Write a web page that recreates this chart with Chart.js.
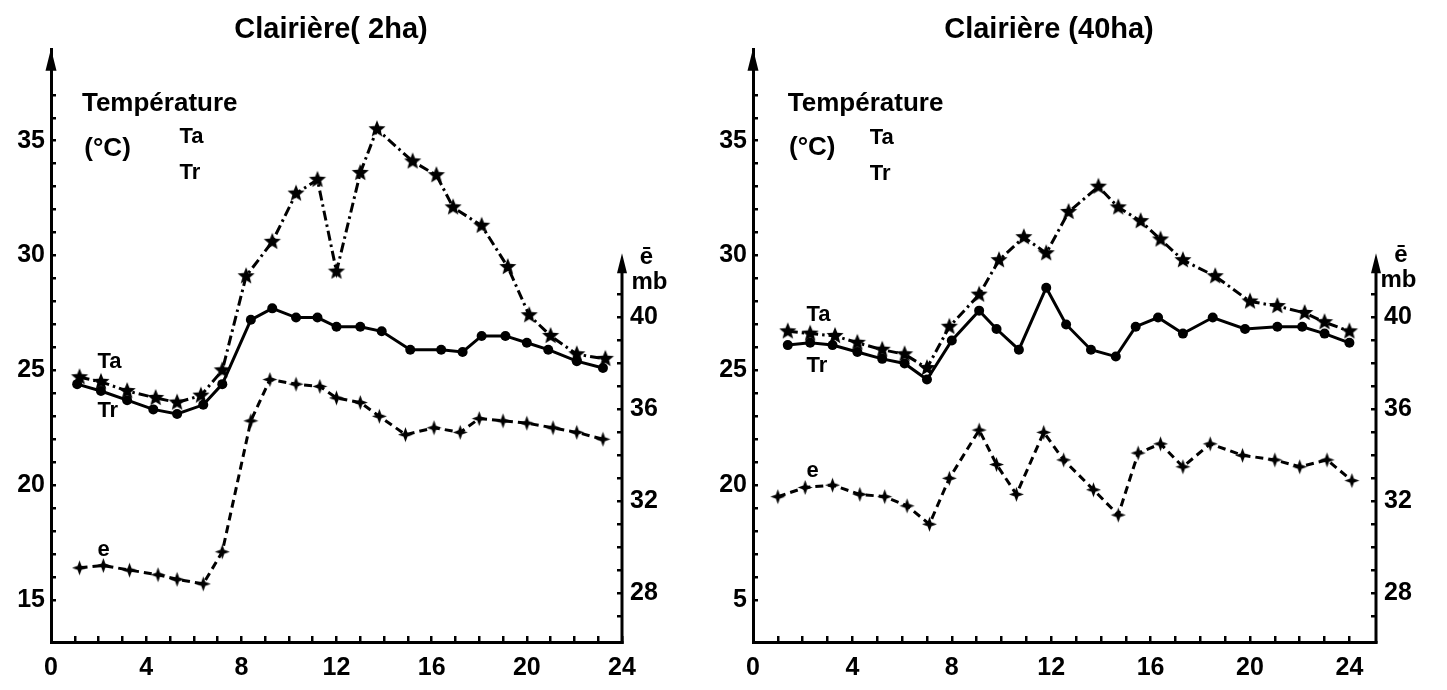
<!DOCTYPE html>
<html lang="fr">
<head>
<meta charset="utf-8">
<title>Clairières : température et tension de vapeur</title>
<script src="https://cdn.jsdelivr.net/npm/chart.js@4.4.1/dist/chart.umd.min.js"></script>
<style>
  html, body { margin: 0; padding: 0; background: #fff; width: 1447px; height: 690px; overflow: hidden; }
  canvas { position: absolute; top: 0; }
  #c2 { left: -38px; }
  #c40 { left: 651px; }
</style>
</head>
<body>
<canvas id="c2" width="738" height="690"></canvas>
<canvas id="c40" width="796" height="690"></canvas>
<script>
// ---- Clairière (2 ha): hour of day, air temperature Ta, radiant temperature Tr (°C), vapour pressure e (mb)
const hoursTa2 = [1.2, 2.1, 3.2, 4.4, 5.3, 6.3, 7.2, 8.2, 9.3, 10.3, 11.2, 12.0, 13.0, 13.7, 15.2, 16.2, 16.9, 18.1, 19.2, 20.1, 21.0, 22.1, 23.3];
const ta2      = [24.7, 24.5, 24.1, 23.8, 23.6, 23.9, 25.0, 29.1, 30.6, 32.7, 33.3, 29.3, 33.6, 35.5, 34.1, 33.5, 32.1, 31.3, 29.5, 27.4, 26.5, 25.7, 25.5];
const hoursTr2 = [1.1, 2.1, 3.2, 4.3, 5.3, 6.4, 7.2, 8.4, 9.3, 10.3, 11.2, 12.0, 13.0, 13.9, 15.1, 16.4, 17.3, 18.1, 19.1, 20.0, 20.9, 22.1, 23.2];
const tr2      = [24.4, 24.1, 23.7, 23.3, 23.1, 23.5, 24.4, 27.2, 27.7, 27.3, 27.3, 26.9, 26.9, 26.7, 25.9, 25.9, 25.8, 26.5, 26.5, 26.2, 25.9, 25.4, 25.1];
const hoursE2  = [1.2, 2.2, 3.3, 4.5, 5.3, 6.4, 7.2, 8.4, 9.2, 10.3, 11.3, 12.0, 13.0, 13.8, 14.9, 16.1, 17.2, 18.0, 19.0, 20.0, 21.1, 22.1, 23.2];
const e2       = [29.1, 29.2, 29.0, 28.8, 28.6, 28.4, 29.8, 35.5, 37.3, 37.1, 37.0, 36.5, 36.3, 35.7, 34.9, 35.2, 35.0, 35.6, 35.5, 35.4, 35.2, 35.0, 34.7];

// ---- Clairière (40 ha)
const hoursTa40 = [1.4, 2.3, 3.3, 4.2, 5.2, 6.1, 7.0, 7.9, 9.1, 9.9, 10.9, 11.8, 12.7, 13.9, 14.7, 15.6, 16.4, 17.3, 18.6, 20.0, 21.1, 22.2, 23.0, 24.0];
const ta40      = [26.7, 26.6, 26.5, 26.2, 25.9, 25.7, 25.1, 26.9, 28.3, 29.8, 30.8, 30.1, 31.9, 33.0, 32.1, 31.5, 30.7, 29.8, 29.1, 28.0, 27.8, 27.5, 27.1, 26.7];
const hoursTr40 = [1.4, 2.3, 3.2, 4.2, 5.2, 6.1, 7.0, 8.0, 9.1, 9.8, 10.7, 11.8, 12.6, 13.6, 14.6, 15.4, 16.3, 17.3, 18.5, 19.8, 21.1, 22.1, 23.0, 24.0];
const tr40      = [26.1, 26.2, 26.1, 25.8, 25.5, 25.3, 24.6, 26.3, 27.6, 26.8, 25.9, 28.6, 27.0, 25.9, 25.6, 26.9, 27.3, 26.6, 27.3, 26.8, 26.9, 26.9, 26.6, 26.2];
const hoursE40  = [1.0, 2.1, 3.2, 4.3, 5.3, 6.2, 7.1, 7.9, 9.1, 9.8, 10.6, 11.7, 12.5, 13.7, 14.7, 15.5, 16.4, 17.3, 18.4, 19.7, 21.0, 22.0, 23.1, 24.1];
const e40       = [32.2, 32.6, 32.7, 32.3, 32.2, 31.8, 31.0, 33.0, 35.1, 33.6, 32.3, 35.0, 33.8, 32.5, 31.4, 34.1, 34.5, 33.5, 34.5, 34.0, 33.8, 33.5, 33.8, 32.9];

// ---- tick labels
const hourTicks = [0, 4, 8, 12, 16, 20, 24];
const tempTicks = [15, 20, 25, 30, 35];
const tempTickLabels2  = ['15', '20', '25', '30', '35'];
const tempTickLabels40 = ['5', '20', '25', '30', '35'];
const vapTicks = [28, 32, 36, 40];
const vapTickLabels = ['28', '32', '36', '40'];

const FONT = "'Liberation Sans', Arial, sans-serif";
const INK = '#000';

// filled star used as point marker (5 spikes for Ta, 4 spikes for e)
function starMarker(outer, inner, spikes) {
  const size = Math.ceil(outer * 2 + 2);
  const c = document.createElement('canvas');
  c.width = c.height = size;
  const g = c.getContext('2d');
  g.fillStyle = INK;
  g.beginPath();
  for (let k = 0; k < spikes * 2; k++) {
    const r = k % 2 ? inner : outer;
    const a = -Math.PI / 2 + k * Math.PI / spikes;
    const px = size / 2 + r * Math.cos(a), py = size / 2 + r * Math.sin(a);
    if (k) g.lineTo(px, py); else g.moveTo(px, py);
  }
  g.closePath();
  g.fill();
  return c;
}
const taMarker = starMarker(9, 3.9, 5);
const eMarker = starMarker(7.5, 2.8, 4);

function points(hours, values) {
  return hours.map((h, i) => ({ x: h, y: values[i] }));
}

function arrowHead(ctx, x, tipY, halfW, len) {
  ctx.beginPath();
  ctx.moveTo(x, tipY);
  ctx.lineTo(x - halfW, tipY + len);
  ctx.lineTo(x + halfW, tipY + len);
  ctx.closePath();
  ctx.fill();
}

// axis arrows, the short vapour-pressure axis and the in-plot annotations
const decorations = {
  id: 'decorations',
  afterDraw(chart, args, opts) {
    const { ctx, chartArea: a, scales } = chart;
    ctx.save();
    ctx.fillStyle = INK;
    ctx.strokeStyle = INK;
    arrowHead(ctx, a.left, a.top - 1, 5.5, 22);
    const topPx = scales.y2.getPixelForValue(opts.vapAxisTop);
    ctx.lineWidth = 3;
    ctx.beginPath();
    ctx.moveTo(a.right, a.bottom + 1.5);
    ctx.lineTo(a.right, topPx + 12);
    ctx.stroke();
    arrowHead(ctx, a.right, topPx, 5, 20);
    ctx.textBaseline = 'middle';
    ctx.textAlign = 'left';
    for (const n of opts.notes) {
      ctx.font = `bold ${n.size}px ${FONT}`;
      const ys = n.axis === 'y2' ? scales.y2 : scales.y;
      ctx.fillText(n.text, scales.x.getPixelForValue(n.x), ys.getPixelForValue(n.y));
    }
    ctx.restore();
  }
};

function panel(id, cfg) {
  const tickFont = { family: FONT, size: 25, weight: 'bold' };
  const line = { borderColor: INK, backgroundColor: INK, borderWidth: 3, fill: false, tension: 0, pointBorderWidth: 0 };
  return new Chart(document.getElementById(id), {
    type: 'line',
    data: {
      datasets: [
        { ...line, label: 'Ta', data: points(cfg.hoursTa, cfg.ta), yAxisID: 'y', borderDash: [10, 4, 2.5, 4], pointStyle: taMarker },
        { ...line, label: 'Tr', data: points(cfg.hoursTr, cfg.tr), yAxisID: 'y', pointStyle: 'circle', pointRadius: 5 },
        { ...line, label: 'e', data: points(cfg.hoursE, cfg.e), yAxisID: 'y2', borderDash: [8, 5], pointStyle: eMarker }
      ]
    },
    plugins: [decorations],
    options: {
      responsive: false,
      animation: false,
      devicePixelRatio: 1,
      layout: { padding: 0 },
      plugins: {
        legend: { display: false },
        tooltip: { enabled: false },
        title: {
          display: true, text: cfg.title, color: INK,
          font: { family: FONT, size: 29, weight: 'bold' },
          padding: { top: 13, bottom: 2 }
        },
        decorations: { vapAxisTop: 42.8, notes: cfg.notes }
      },
      scales: {
        x: {
          type: 'linear', min: 0, max: cfg.xMax,
          ticks: {
            stepSize: 1, autoSkip: false, maxRotation: 0, color: INK, font: tickFont, padding: 17,
            callback: v => hourTicks.includes(v) ? String(v) : ''
          },
          afterBuildTicks: s => { s.ticks = s.ticks.filter(t => Number.isInteger(t.value) && t.value <= 24); },
          grid: { drawOnChartArea: false, tickLength: -6, color: INK, lineWidth: 2.5 },
          border: { display: true, color: INK, width: 3 },
          afterFit: s => { s.height = 48; }
        },
        y: {
          position: 'left', min: 13.17, max: 38.96,
          ticks: {
            stepSize: 1, autoSkip: false, color: INK, font: tickFont, padding: 11,
            callback: v => { const i = tempTicks.indexOf(v); return i >= 0 ? cfg.tempLabels[i] : ''; }
          },
          afterBuildTicks: s => { s.ticks = s.ticks.filter(t => Number.isInteger(t.value) && t.value >= 14 && t.value <= 37); },
          grid: { drawOnChartArea: false, tickLength: -5, color: INK, lineWidth: 2.5 },
          border: { display: true, color: INK, width: 3 },
          afterFit: s => { s.width = cfg.leftWidth; }
        },
        y2: {
          position: 'right', min: 25.87, max: 51.66,
          ticks: {
            stepSize: 1, autoSkip: false, color: INK, font: tickFont, padding: 13,
            callback: v => { const i = vapTicks.indexOf(v); return i >= 0 ? vapTickLabels[i] : ''; }
          },
          afterBuildTicks: s => { s.ticks = s.ticks.filter(t => Number.isInteger(t.value) && t.value >= 27 && t.value <= 41); },
          grid: { drawOnChartArea: false, tickLength: -5, color: INK, lineWidth: 2.5 },
          border: { display: false },
          afterFit: s => { s.width = cfg.rightWidth; }
        }
      }
    }
  });
}

panel('c2', {
  title: 'Clairière( 2ha)',
  hoursTa: hoursTa2, ta: ta2, hoursTr: hoursTr2, tr: tr2, hoursE: hoursE2, e: e2,
  tempLabels: tempTickLabels2,
  xMax: 24, leftWidth: 89, rightWidth: 78,
  notes: [
    { text: 'Température', x: 1.3, y: 36.6, size: 26 },
    { text: '(°C)', x: 1.4, y: 34.65, size: 26 },
    { text: 'Ta', x: 5.4, y: 35.15, size: 22 },
    { text: 'Tr', x: 5.4, y: 33.6, size: 22 },
    { text: 'Ta', x: 1.95, y: 25.35, size: 22 },
    { text: 'Tr', x: 1.95, y: 23.25, size: 22 },
    { text: 'e', x: 1.95, y: 17.2, size: 22 },
    { text: 'ē', x: 24.75, y: 29.9, size: 24 },
    { text: 'mb', x: 24.4, y: 28.85, size: 24 }
  ]
});

panel('c40', {
  title: 'Clairière (40ha)',
  hoursTa: hoursTa40, ta: ta40, hoursTr: hoursTr40, tr: tr40, hoursE: hoursE40, e: e40,
  tempLabels: tempTickLabels40,
  xMax: 25.07, leftWidth: 102, rightWidth: 71,
  notes: [
    { text: 'Température', x: 1.4, y: 36.6, size: 26 },
    { text: '(°C)', x: 1.45, y: 34.7, size: 26 },
    { text: 'Ta', x: 4.7, y: 35.1, size: 22 },
    { text: 'Tr', x: 4.7, y: 33.55, size: 22 },
    { text: 'Ta', x: 2.15, y: 27.4, size: 22 },
    { text: 'Tr', x: 2.15, y: 25.2, size: 22 },
    { text: 'e', x: 2.15, y: 20.6, size: 22 },
    { text: 'ē', x: 25.8, y: 30.0, size: 24 },
    { text: 'mb', x: 25.25, y: 28.9, size: 24 }
  ]
});
</script>
</body>
</html>
